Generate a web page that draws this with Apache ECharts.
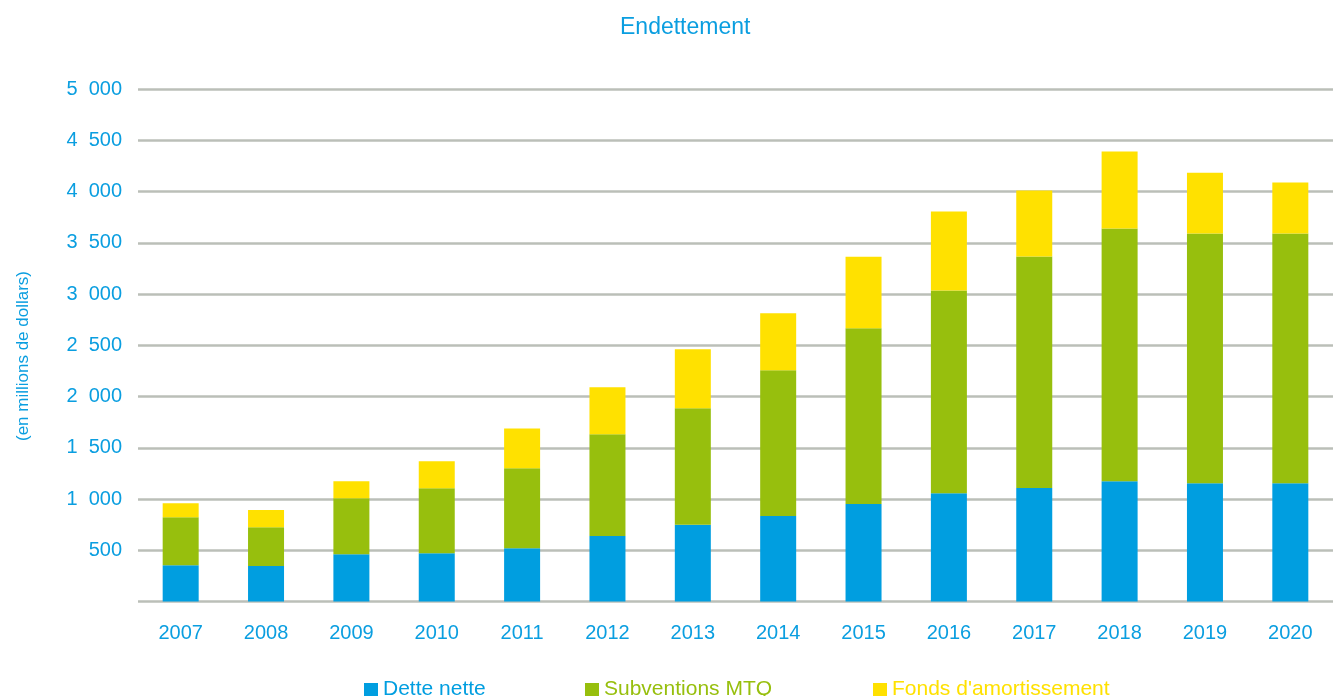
<!DOCTYPE html>
<html><head><meta charset="utf-8">
<script src="https://cdn.jsdelivr.net/npm/echarts@6/dist/echarts.min.js"></script>
<style>html,body{margin:0;padding:0;background:#fff}#c{width:1333px;height:696px}</style>
</head><body><div id="c"></div>
<script>
const years = ['2007','2008','2009','2010','2011','2012','2013','2014','2015','2016','2017','2018','2019','2020'];
const detteNette = [354,347,461,471,520,640,748,835,952,1056,1107,1172,1153,1153];
const subventionsMTQ = [468,377,546,634,779,991,1137,1421,1715,1979,2258,2466,2437,2437];
const fondsAmortissement = [137,169,166,263,390,459,575,556,696,769,644,753,594,497];
const yTicks = {min:0, max:5000, interval:500};

const BLUE='#009ee0', GREEN='#97bf0d', YELLOW='#ffe100', TXT='#0a9ee0';
const FONT='"Liberation Sans", Arial, sans-serif';
function fmt(v){ if(v===0) return ''; const s=String(v); return s.length>3 ? s.slice(0,s.length-3)+'  '+s.slice(-3) : s; }

const chart = echarts.init(document.getElementById('c'), null, {renderer:'canvas'});
const mkLegend = (name, left, color) => ({
  data:[name], left:left, top:674, itemWidth:14, itemHeight:13, icon:'rect',
  textStyle:{color:color, fontFamily:FONT, fontSize:21}, selectedMode:false
});
chart.setOption({
  animation:false,
  title:{text:'Endettement', left:615, top:11, textStyle:{color:TXT, fontFamily:FONT, fontSize:23, fontWeight:'normal'}},
  legend:[mkLegend('Dette nette',359,BLUE), mkLegend('Subventions MTQ',580,GREEN), mkLegend("Fonds d'amortissement",868,YELLOW)],
  grid:{left:138, width:1207, top:89, height:512.5, containLabel:false},
  xAxis:{type:'category', data:years, axisLine:{show:false}, axisTick:{show:false},
    axisLabel:{color:TXT, fontFamily:FONT, fontSize:20, margin:22}},
  yAxis:{type:'value', min:yTicks.min, max:yTicks.max, interval:yTicks.interval,
    axisLine:{show:false}, axisTick:{show:false},
    axisLabel:{color:TXT, fontFamily:FONT, fontSize:20, margin:16, formatter:fmt},
    splitLine:{lineStyle:{color:'#bbbfb8', width:2.5}}},
  graphic:[{type:'text', x:23, y:356, rotation:Math.PI/2,
    style:{text:'(en millions de dollars)', fill:TXT, font:'17px "Liberation Sans", Arial, sans-serif', align:'center', verticalAlign:'middle'}}],
  series:[
    {name:'Dette nette', type:'bar', stack:'t', data:detteNette, barWidth:36, itemStyle:{color:BLUE}},
    {name:'Subventions MTQ', type:'bar', stack:'t', data:subventionsMTQ, barWidth:36, itemStyle:{color:GREEN}},
    {name:"Fonds d'amortissement", type:'bar', stack:'t', data:fondsAmortissement, barWidth:36, itemStyle:{color:YELLOW}}
  ]
});
</script></body></html>
